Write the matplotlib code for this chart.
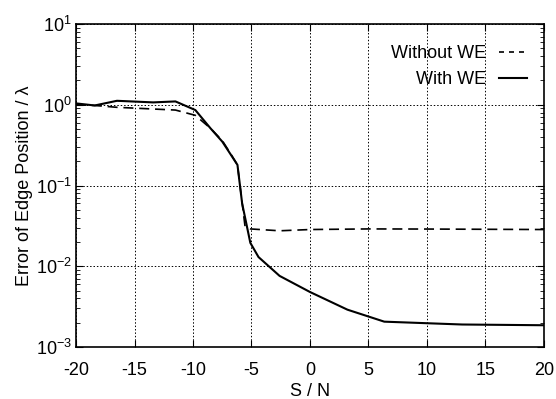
import matplotlib
matplotlib.use("Agg")
import matplotlib.pyplot as plt
from matplotlib.ticker import LogLocator, NullFormatter

plt.rcParams['font.family'] = ['Liberation Sans', 'DejaVu Sans']
plt.rcParams['mathtext.fontset'] = 'custom'
plt.rcParams['mathtext.rm'] = 'Liberation Sans'
plt.rcParams['mathtext.it'] = 'Liberation Sans'

# S/N (dB) sample points and edge position errors (in wavelengths)
snr_with = [-20, -18.4, -16.5, -13.4, -11.5, -9.8, -8.5, -7.5, -6.8, -6.2,
            -5.8, -5.1, -4.4, -2.6, 0, 3.2, 6.35, 13.0, 20]
err_with = [1.04, 0.98, 1.12, 1.07, 1.1, 0.86, 0.51, 0.35, 0.245, 0.18,
            0.06, 0.0195, 0.013, 0.0076, 0.0048, 0.0029, 0.00206, 0.0019, 0.00186]

snr_without = [-20, -18.4, -16.5, -11.5, -9.8, -8.5, -7.5, -6.8, -6.2,
               -5.55, -5.1, -2.6, 0, 5, 10, 15, 20]
err_without = [1.0, 0.98, 0.93, 0.86, 0.74, 0.51, 0.36, 0.25, 0.18,
               0.031, 0.029, 0.0275, 0.0285, 0.029, 0.0289, 0.0287, 0.0285]

xticks = [-20, -15, -10, -5, 0, 5, 10, 15, 20]
yticks = [1e-3, 1e-2, 1e-1, 1e0, 1e1]
ytick_labels = [r'$\mathregular{10^{-3}}$', r'$\mathregular{10^{-2}}$',
                r'$\mathregular{10^{-1}}$', r'$\mathregular{10^{0}}$',
                r'$\mathregular{10^{1}}$']

fig = plt.figure(figsize=(5.56, 3.99), dpi=100)
ax = fig.add_axes([0.1367, 0.1303, 0.8417, 0.8095])

ax.plot(snr_without, err_without, color='black', lw=1.2, ls=(0, (6, 3.5)),
        label='Without WE')
ax.plot(snr_with, err_with, color='black', lw=1.5, ls='-', label='With WE')

ax.set_yscale('log')
ax.set_xlim(-20, 20)
ax.set_ylim(1e-3, 1e1)
ax.set_xticks(xticks)
ax.set_xticklabels([str(t) for t in xticks])
ax.set_yticks(yticks)
ax.set_yticklabels(ytick_labels)
ax.yaxis.set_minor_locator(LogLocator(base=10, subs=range(2, 10)))
ax.yaxis.set_minor_formatter(NullFormatter())

ax.tick_params(which='both', direction='in', top=True, right=True,
               labelsize=13, color='black')
ax.tick_params(which='major', length=5)
ax.tick_params(which='minor', length=3)
ax.tick_params(axis='x', pad=11)
ax.tick_params(axis='y', pad=3)

ax.grid(True, which='major', color='black', ls=(0, (1.5, 2)), lw=0.7)
for s in ax.spines.values():
    s.set_linewidth(1.2)

ax.set_xlabel('S / N', fontsize=13, labelpad=3)
ax.set_ylabel('Error of Edge Position / λ', fontsize=13, labelpad=2)

leg = ax.legend(loc='upper right', frameon=False, markerfirst=False, fontsize=13,
                handlelength=1.55, handletextpad=0.7, labelspacing=0.5,
                borderpad=0, borderaxespad=0, bbox_to_anchor=(0.964, 0.935))
leg.get_lines()[0].set_linestyle((0, (3, 3)))

fig.savefig('out.png', dpi=100)
